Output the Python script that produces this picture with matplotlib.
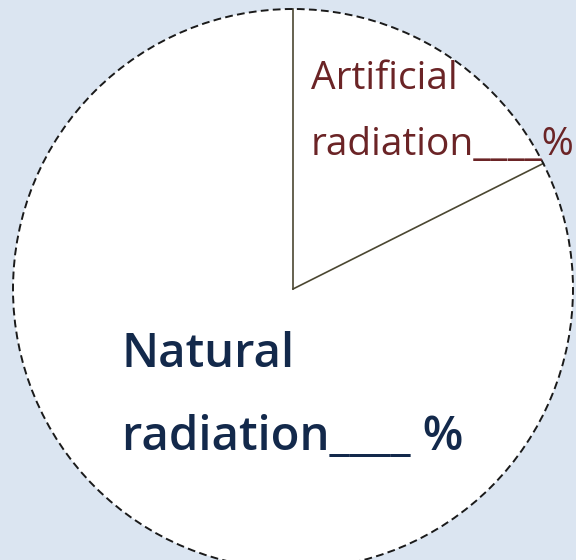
import numpy as np
import matplotlib
matplotlib.use("Agg")
import matplotlib.pyplot as plt
from matplotlib.patches import Circle

# slice shares (blanks in the original, angles)
labels = ["Artificial", "Natural"]
shares = [17.6, 82.4]

BG, INK_RED, INK_NAVY, EDGE = "#dbe5f1", "#6b2426", "#13294b", "#4b4731"
W, H = 576, 560
cx, cy, r = 293, H - 289, 280

fig = plt.figure(figsize=(W / 100, H / 100), dpi=100, facecolor=BG)
ax = fig.add_axes([0, 0, 1, 1])

ax.pie(shares, center=(cx, cy), radius=r, startangle=90, counterclock=False,
       colors=["white", "white"], wedgeprops=dict(linewidth=0), frame=True)
ax.set_xlim(0, W); ax.set_ylim(0, H)
ax.set_aspect("equal"); ax.axis("off")

# radial separators from the slice boundaries
bounds = 90 - 360 * np.cumsum([0] + shares[:-1]) / sum(shares)
for a in bounds:
    t = np.deg2rad(a)
    ax.plot([cx, cx + r * np.cos(t)], [cy, cy + r * np.sin(t)], color=EDGE, lw=1.2, zorder=3)

ax.add_patch(Circle((cx, cy), r, fill=False, ec="#1a1a1a", lw=1.4,
                    ls=(0, (4, 2.2)), zorder=4))

ax.text(311, H - 155, "Artificial\nradiation____%", color=INK_RED, fontsize=28,
        family="Open Sans", va="baseline", ha="left", linespacing=1.95, zorder=5)
ax.text(122, H - 450, "Natural\nradiation____ %", color=INK_NAVY, fontsize=34,
        family="Open Sans", weight="semibold", va="baseline", ha="left",
        linespacing=2.0, zorder=5)

fig.savefig("out.png", dpi=100, facecolor=BG)
